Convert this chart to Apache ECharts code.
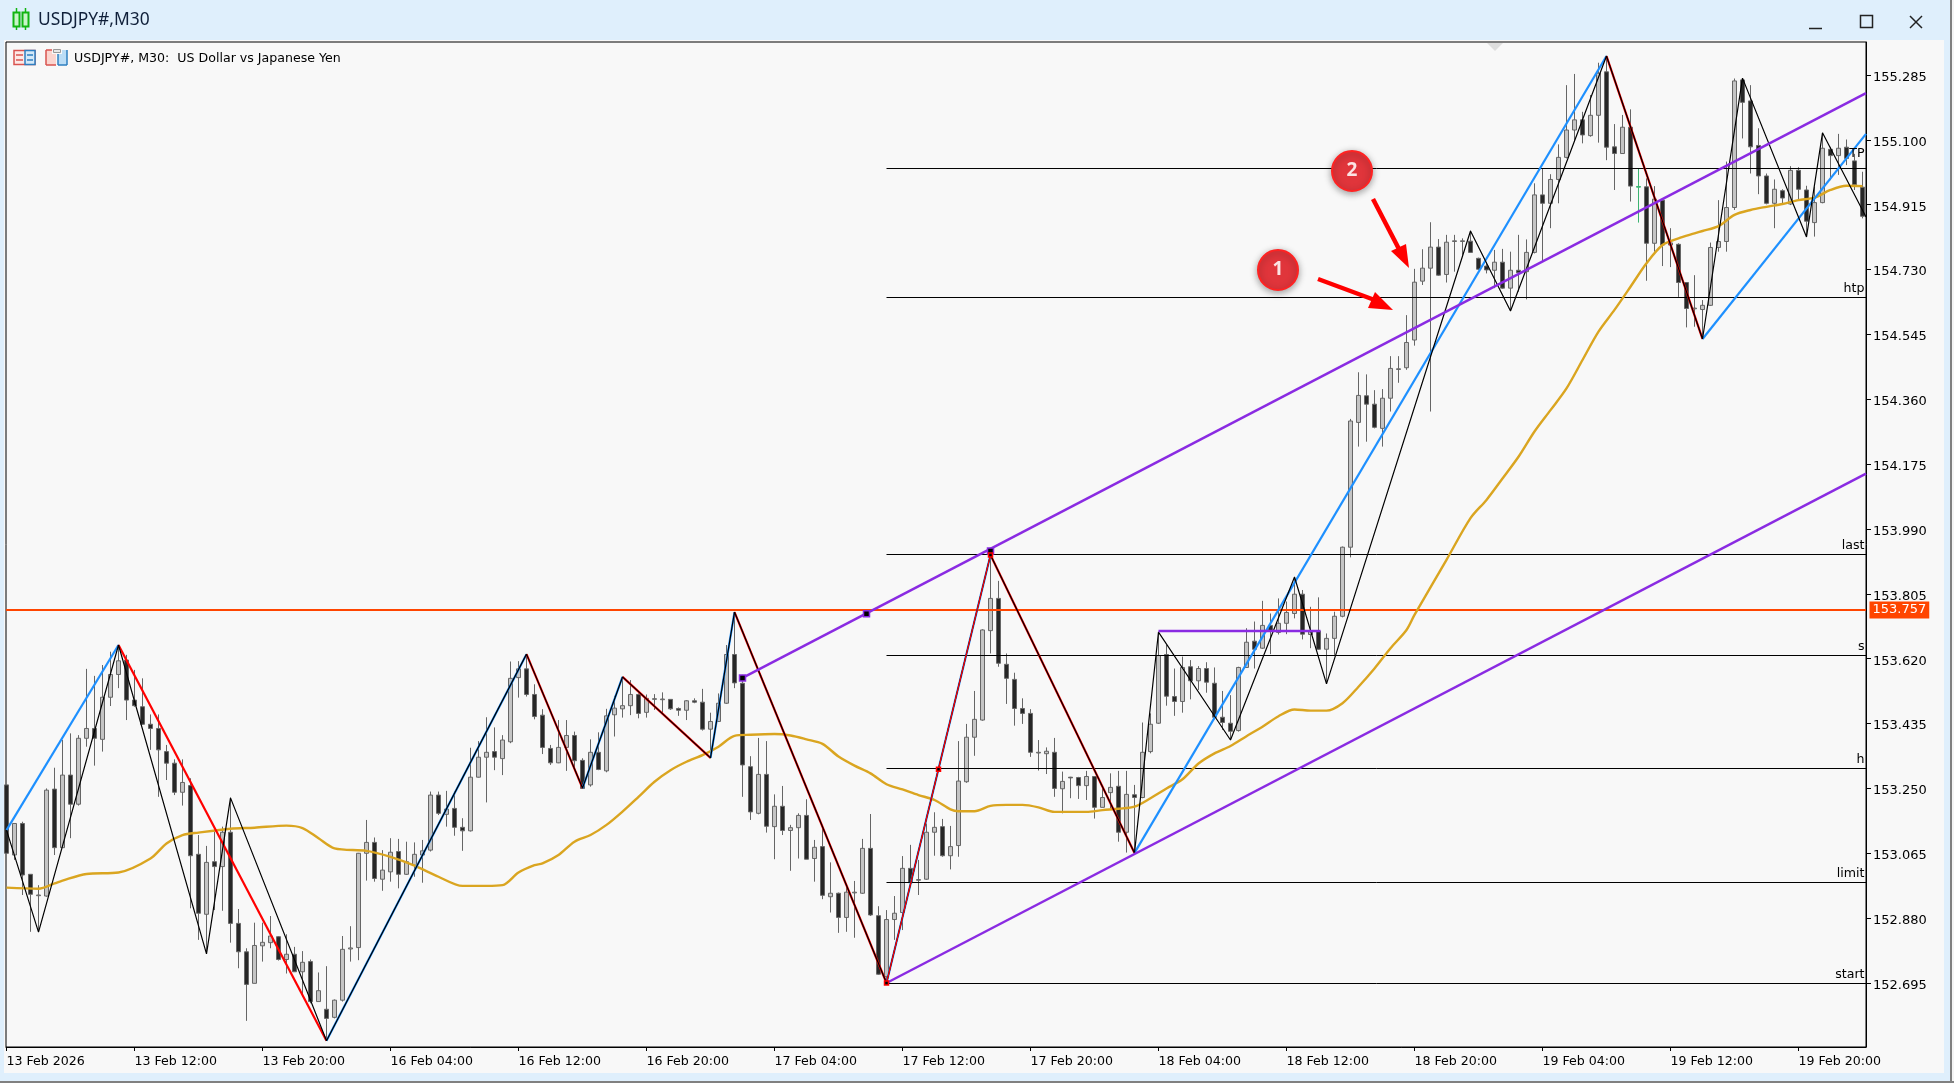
<!DOCTYPE html>
<html>
<head>
<meta charset="utf-8">
<title>USDJPY#,M30</title>
<style>
html, body { margin: 0; padding: 0; background: #DFEFFC; }
#main { width: 1954px; height: 1083px; }
</style>
<script src="https://cdn.jsdelivr.net/npm/echarts@6/dist/echarts.min.js"></script>
</head>
<body>
<div id="main"></div>
<script>
// tick labels, one every 16 bars
var tickLabels = ['13 Feb 2026', '13 Feb 12:00', '13 Feb 20:00', '16 Feb 04:00', '16 Feb 12:00', '16 Feb 20:00',
    '17 Feb 04:00', '17 Feb 12:00', '17 Feb 20:00', '18 Feb 04:00', '18 Feb 12:00', '18 Feb 20:00',
    '19 Feb 04:00', '19 Feb 12:00', '19 Feb 20:00'];
var tickBars = [0, 16, 32, 48, 64, 80, 96, 112, 128, 144, 160, 176, 192, 208, 224];
var priceTicks = [152.695, 152.880, 153.065, 153.250, 153.435, 153.620, 153.805, 153.990, 154.175,
    154.360, 154.545, 154.730, 154.915, 155.100, 155.285];

// M30 bars: open, close, low, high
var candles = [
[153.260,153.065,153.065,153.260],[153.060,153.150,153.046,153.150],[153.150,153.003,152.946,153.155],[153.005,152.948,152.841,153.005],
[152.944,152.946,152.841,152.974],[152.943,153.245,152.941,153.250],[153.248,153.081,153.060,153.309],[153.081,153.288,153.081,153.388],
[153.288,153.205,153.108,153.407],[153.205,153.393,153.201,153.402],[153.393,153.421,153.369,153.591],[153.421,153.393,153.315,153.571],
[153.390,153.510,153.355,153.602],[153.510,153.575,153.485,153.640],[153.575,153.614,153.536,153.659],[153.616,153.502,153.445,153.631],
[153.502,153.486,153.483,153.588],[153.483,153.433,153.431,153.564],[153.433,153.421,153.360,153.461],[153.421,153.360,153.226,153.461],
[153.355,153.322,153.274,153.374],[153.322,153.239,153.231,153.333],[153.239,153.267,153.201,153.333],[153.258,153.058,152.908,153.279],
[153.062,152.894,152.818,153.117],[152.891,153.039,152.778,153.086],[153.041,153.027,152.903,153.127],[153.027,153.125,152.901,153.141],
[153.125,152.865,152.810,153.224],[152.865,152.784,152.737,152.906],[152.784,152.691,152.587,152.794],[152.694,152.802,152.694,152.867],
[152.801,152.811,152.756,152.867],[152.810,152.829,152.794,152.886],[152.827,152.762,152.759,152.829],[152.762,152.777,152.722,152.834],
[152.777,152.727,152.727,152.798],[152.727,152.754,152.656,152.786],[152.756,152.642,152.637,152.762],[152.642,152.673,152.642,152.725],
[152.620,152.594,152.530,152.743],[152.597,152.646,152.594,152.648],[152.646,152.791,152.642,152.829],[152.792,152.795,152.756,152.857],
[152.796,153.065,152.760,153.066],[153.065,153.096,152.987,153.160],[153.096,152.993,152.984,153.110],[152.991,153.017,152.958,153.074],
[153.012,153.068,152.984,153.108],[153.070,153.005,152.965,153.106],[153.005,153.041,153.003,153.098],[153.031,153.062,152.998,153.096],
[153.060,153.072,152.981,153.103],[153.074,153.231,153.070,153.241],[153.231,153.179,153.174,153.241],[153.176,153.191,153.141,153.243],
[153.193,153.139,153.115,153.241],[153.139,153.129,153.072,153.165],[153.129,153.282,153.127,153.366],[153.282,153.339,153.281,153.385],
[153.339,153.353,153.210,153.453],[153.355,153.339,153.302,153.424],[153.335,153.388,153.288,153.402],[153.383,153.564,153.379,153.612],
[153.566,153.591,153.509,153.613],[153.591,153.518,153.512,153.632],[153.518,153.455,153.447,153.547],[153.459,153.367,153.348,153.476],
[153.364,153.323,153.317,153.374],[153.323,153.367,153.322,153.445],[153.367,153.401,153.300,153.445],[153.401,153.329,153.302,153.412],
[153.330,153.250,153.250,153.336],[153.260,153.353,153.255,153.390],[153.353,153.304,153.302,153.410],[153.300,153.457,153.296,153.477],
[153.460,153.479,153.398,153.514],[153.477,153.486,153.452,153.567],[153.486,153.518,153.459,153.559],[153.518,153.464,153.450,153.521],
[153.467,153.507,153.452,153.518],[153.504,153.506,153.474,153.519],[153.503,153.505,153.464,153.524],[153.504,153.477,153.474,153.505],
[153.478,153.473,153.457,153.481],[153.473,153.500,153.445,153.502],[153.500,153.496,153.493,153.507],[153.496,153.419,153.415,153.534],
[153.419,153.441,153.336,153.466],[153.441,153.493,153.440,153.521],[153.493,153.632,153.491,153.659],[153.632,153.551,153.536,153.753],
[153.550,153.317,153.226,153.574],[153.312,153.183,153.160,153.342],[153.179,153.290,153.176,153.394],[153.290,153.142,153.124,153.385],
[153.141,153.199,153.048,153.233],[153.199,153.130,153.117,153.257],[153.130,153.138,153.015,153.146],[153.138,153.173,153.050,153.179],
[153.173,153.048,153.048,153.219],[153.050,153.082,152.984,153.103],[153.084,152.945,152.934,153.141],[152.941,152.951,152.896,153.039],
[152.951,152.882,152.838,152.953],[152.882,152.954,152.841,152.970],[152.952,152.954,152.824,152.986],[152.951,153.079,152.949,153.106],
[153.079,152.889,152.886,153.177],[152.887,152.720,152.718,152.914],[152.713,152.876,152.694,152.903],[152.876,152.894,152.818,152.943],
[152.896,153.022,152.846,153.057],[153.022,152.981,152.979,153.089],[152.988,152.990,152.946,153.046],[152.991,153.125,152.989,153.150],
[153.125,153.139,153.058,153.182],[153.141,153.058,153.055,153.163],[153.058,153.084,153.019,153.143],[153.087,153.271,153.055,153.385],
[153.269,153.396,153.266,153.434],[153.396,153.447,153.343,153.528],[153.445,153.702,153.443,153.704],[153.700,153.792,153.635,153.916],
[153.792,153.607,153.597,153.842],[153.604,153.564,153.491,153.635],[153.561,153.478,153.429,153.580],[153.478,153.464,153.434,153.507],
[153.464,153.353,153.340,153.476],[153.351,153.353,153.301,153.388],[153.349,153.356,153.291,153.367],[153.353,153.250,153.226,153.394],
[153.249,153.270,153.179,153.298],[153.282,153.280,153.222,153.283],[153.281,153.258,153.220,153.283],[153.258,153.284,153.217,153.300],
[153.284,153.196,153.164,153.285],[153.196,153.224,153.196,153.250],[153.238,153.253,153.193,153.293],[153.256,153.125,153.098,153.300],
[153.125,153.233,153.067,153.300],[153.232,153.224,153.067,153.260],[153.224,153.353,153.222,153.438],[153.355,153.433,153.350,153.464],
[153.436,153.629,153.434,153.697],[153.632,153.513,153.486,153.659],[153.512,153.498,153.457,153.592],[153.498,153.595,153.466,153.626],
[153.597,153.557,153.504,153.616],[153.557,153.592,153.531,153.599],[153.592,153.553,153.523,153.610],[153.550,153.453,153.447,153.595],
[153.453,153.438,153.417,153.528],[153.436,153.413,153.388,153.516],[153.415,153.595,153.412,153.597],[153.595,153.667,153.594,153.707],
[153.670,153.647,153.592,153.726],[153.650,153.715,153.648,153.785],[153.715,153.700,153.633,153.749],[153.695,153.721,153.689,153.792],
[153.721,153.752,153.690,153.783],[153.749,153.804,153.735,153.852],[153.804,153.690,153.675,153.816],[153.689,153.697,153.650,153.768],
[153.699,153.647,153.645,153.795],[153.647,153.678,153.548,153.692],[153.678,153.741,153.631,153.754],[153.741,153.938,153.738,153.940],
[153.938,154.298,153.909,154.304],[154.294,154.371,154.225,154.437],[154.370,154.346,154.239,154.431],[154.346,154.280,154.277,154.386],
[154.277,154.363,154.225,154.389],[154.363,154.448,154.325,154.483],[154.445,154.447,154.407,154.483],[154.450,154.522,154.444,154.600],
[154.529,154.694,154.513,154.732],[154.697,154.734,154.686,154.788],[154.734,154.794,154.325,154.865],[154.794,154.714,154.712,154.817],
[154.716,154.808,154.693,154.829],[154.810,154.812,154.724,154.829],[154.810,154.812,154.772,154.819],[154.811,154.779,154.779,154.841],
[154.762,154.731,154.729,154.764],[154.740,154.729,154.719,154.751],[154.728,154.751,154.677,154.786],[154.751,154.677,154.675,154.789],
[154.677,154.728,154.613,154.781],[154.728,154.721,154.667,154.829],[154.724,154.779,154.645,154.816],[154.779,154.943,154.776,154.976],
[154.943,154.919,154.752,155.019],[154.919,154.987,154.848,155.002],[154.987,155.050,154.919,155.087],[155.050,155.128,155.047,155.256],
[155.128,155.157,155.095,155.288],[155.157,155.114,155.090,155.180],[155.112,155.170,155.109,155.228],[155.170,155.290,155.092,155.320],
[155.294,155.079,155.042,155.339],[155.080,155.061,154.957,155.145],[155.061,155.136,155.060,155.171],[155.136,154.968,154.924,155.187],
[154.967,154.965,154.864,155.019],[154.966,154.805,154.698,154.990],[154.805,154.931,154.781,154.968],[154.928,154.800,154.740,154.931],
[154.800,154.806,154.737,154.848],[154.802,154.693,154.652,154.805],[154.693,154.619,154.565,154.693],[154.618,154.620,154.567,154.714],
[154.616,154.628,154.534,154.643],[154.628,154.793,154.626,154.807],[154.793,154.810,154.781,154.928],[154.810,154.907,154.781,155.038],
[154.907,155.268,154.900,155.275],[155.271,155.207,155.104,155.275],[155.211,155.080,155.004,155.256],[155.084,154.997,154.945,155.133],
[154.997,154.919,154.916,155.004],[154.919,154.959,154.848,154.987],[154.955,154.934,154.919,154.959],[154.917,155.013,154.914,155.025],
[155.013,154.959,154.928,155.022],[154.957,154.868,154.824,154.969],[154.864,154.921,154.824,154.966],[154.921,155.076,154.919,155.120],
[155.073,155.055,154.985,155.080],[155.055,155.076,155.000,155.117],[155.079,155.047,155.028,155.101],[155.040,154.972,154.957,155.060],
[154.965,154.882,154.876,155.009]
];
var highlightedBar = 204;   // the green bar

// moving average, read at these bars
var maBars = [0,4,6,7,10,14,18,20,22,24,28,31,35,37,39,41,45,48,51,54,57,59,60,62,64,66,67,69,71,73,75,77,79,81,83,85,87,89,91,93,96,98,100,102,104,106,108,110,112,114,116,
    118,119,121,123,125,127,129,131,135,137,139,141,143,145,147,149,151,153,155,157,159,161,163,165,167,169,171,173,175,176,180,183,185,187,189,191,193,195,197,199,201,203,205,207,209,211,212,214,216,218,220,222,224,226,228,230,232];
var maValues = [152.967,152.964,152.979,152.987,153.006,153.010,153.050,153.093,153.117,153.124,153.135,153.138,153.144,153.137,153.108,153.079,153.072,153.055,153.030,152.998,152.972,152.972,152.972,152.974,153.010,153.031,153.036,153.060,153.098,153.117,153.146,153.184,153.226,153.269,153.302,153.326,153.345,153.369,153.400,153.403,153.405,153.401,153.390,153.377,153.341,153.315,153.293,153.262,153.247,153.231,153.217,
    153.190,153.185,153.185,153.200,153.203,153.203,153.196,153.183,153.183,153.188,153.192,153.198,153.222,153.250,153.276,153.321,153.350,153.371,153.399,153.426,153.456,153.475,153.472,153.472,153.493,153.540,153.592,153.650,153.702,153.745,153.902,154.021,154.073,154.134,154.196,154.268,154.329,154.391,154.472,154.553,154.615,154.681,154.748,154.800,154.819,154.833,154.840,154.854,154.886,154.900,154.909,154.917,154.928,154.935,154.957,154.969,154.968];

// thin black zigzag
var zigzagBars = [0,4,14,25,28,40,65,72,77,88,91,110,123,141,144,153,161,165,183,188,200,212,217,225,227,232.44];
var zigzagPrices = [153.131,152.840,153.659,152.778,153.223,152.530,153.633,153.251,153.568,153.337,153.753,152.695,153.916,153.066,153.696,153.388,153.853,153.548,154.840,154.612,155.339,154.532,155.276,154.823,155.120,154.880];
// thick swing legs, blue going up and red going down
var swingBars = [0,14,40,65,72,77,88,91,110,123,141,200,212,232.44];
var swingPrices = [153.131,153.659,152.530,153.633,153.251,153.568,153.337,153.753,152.695,153.916,153.066,155.339,154.532,155.117];

// purple channel
var channelTopBars = [92, 232.44], channelTopPrices = [153.565, 155.233];
var channelLowBars = [110, 232.44], channelLowPrices = [152.695, 154.148];
var shelfBars = [144, 164.25], shelfPrices = [153.699, 153.699];
var purpleAnchorBars = [92, 107.5, 123], purpleAnchorPrices = [153.565, 153.748, 153.927];
var redLegBars = [110, 123], redLegPrices = [152.695, 153.916];
var redAnchorBars = [110, 116.5, 123], redAnchorPrices = [152.695, 153.305, 153.916];

// horizontal levels
var levelNames = ['TP', 'htp', 'last', 's', 'h', 'limit', 'start'];
var levelPrices = [155.0182, 154.6503, 153.9172, 153.6291, 153.3068, 152.9816, 152.6935];
var levelFromBar = 110;
var lastPrice = 153.7589;
var lastPriceText = '153.757';

var xMin = -0.0625, xMax = 232.4375;
var uiFont = '"DejaVu Sans"';

function zip(bars, values) {
    return bars.map(function (b, i) { return [b, values[i]]; });
}
function lineSeries(data, color, width, z, smooth) {
    return {
        type: 'line',
        data: data,
        showSymbol: false,
        symbol: 'none',
        silent: true,
        smooth: smooth || false,
        z: z || 3,
        lineStyle: { color: color, width: width }
    };
}
function anchorSeries(data, fill, border, size) {
    return {
        type: 'scatter',
        data: data,
        symbol: 'rect',
        symbolSize: size,
        silent: true,
        z: 6,
        itemStyle: { color: fill, borderColor: border, borderWidth: 1.5, opacity: 1 }
    };
}
// an invisible point that only carries a text next to it
function labelSeries(x, y, label) {
    return {
        type: 'scatter',
        data: [[x, y]],
        symbolSize: 1,
        clip: false,
        silent: true,
        z: 7,
        itemStyle: { color: 'rgba(0,0,0,0)', opacity: 1 },
        label: Object.assign({ show: true, fontFamily: uiFont, fontSize: 12.6 }, label)
    };
}

var barData = [], greenData = [];
candles.forEach(function (c, i) {
    (i === highlightedBar ? greenData : barData).push([i, c[0], c[1], c[2], c[3]]);
});

var series = [];
series.push({
    type: 'candlestick',
    data: barData,
    encode: { x: 0, y: [1, 2, 3, 4] },
    barWidth: 5,
    silent: true,
    z: 2,
    itemStyle: { color: '#C4C4C4', color0: '#262626', borderColor: '#666666', borderColor0: '#666666', borderWidth: 1 }
});
series.push({
    type: 'candlestick',
    data: greenData,
    encode: { x: 0, y: [1, 2, 3, 4] },
    barWidth: 5,
    silent: true,
    z: 2,
    itemStyle: { color: '#3CB371', color0: '#3CB371', borderColor: '#3CB371', borderColor0: '#3CB371', borderWidth: 1 }
});

// levels with their names
levelNames.forEach(function (name, i) {
    series.push(lineSeries(zip([levelFromBar, xMax], [levelPrices[i], levelPrices[i]]), '#000000', 1, 3));
    series.push(labelSeries(xMax, levelPrices[i], {
        position: 'left', distance: 1, offset: [0, name === 'TP' ? -15 : -9], formatter: name, color: '#000'
    }));
});

// last price line and its tag
series.push(lineSeries(zip([xMin, xMax], [lastPrice, lastPrice]), '#FF4500', 2, 4));
series.push(labelSeries(xMax, lastPrice, {
    position: 'right', distance: 3, formatter: lastPriceText, color: '#fff', backgroundColor: '#FF4500',
    fontSize: 13, padding: [2, 3, 2, 3], lineHeight: 13
}));

series.push(lineSeries(zip(maBars, maValues), '#DAA520', 2.4, 4, 0.3));

// swing legs
for (var s = 0; s < swingBars.length - 1; s++) {
    var up = swingPrices[s + 1] > swingPrices[s];
    series.push(lineSeries(zip(swingBars.slice(s, s + 2), swingPrices.slice(s, s + 2)), up ? '#1E90FF' : '#FF0000', 2.2, 4));
}
series.push(lineSeries(zip(zigzagBars, zigzagPrices), '#000000', 1.2, 5));
series.push(lineSeries(zip(redLegBars, redLegPrices), '#FF0000', 1.2, 5));

series.push(lineSeries(zip(channelTopBars, channelTopPrices), '#8A2BE2', 2.5, 5));
series.push(lineSeries(zip(channelLowBars, channelLowPrices), '#8A2BE2', 2.5, 5));
series.push(lineSeries(zip(shelfBars, shelfPrices), '#8A2BE2', 2.5, 5));
series.push(anchorSeries(zip(purpleAnchorBars, purpleAnchorPrices), '#000000', '#8A2BE2', 6));
series.push(anchorSeries(zip(redAnchorBars, redAnchorPrices), '#000000', '#FF0000', 4));

// window chrome and the drawn on notes
function box(x, y, w, h, fill, stroke, lw) {
    return { type: 'rect', shape: { x: x, y: y, width: w, height: h }, style: { fill: fill || 'none', stroke: stroke || 'none', lineWidth: lw || 1 }, silent: true };
}
function seg(x1, y1, x2, y2, color, lw) {
    return { type: 'line', shape: { x1: x1, y1: y1, x2: x2, y2: y2 }, style: { stroke: color, lineWidth: lw }, silent: true };
}
function poly(points, fill) {
    return { type: 'polygon', shape: { points: points }, style: { fill: fill }, silent: true };
}
function note(cx, cy, text) {
    return [
        {
            type: 'circle', shape: { cx: cx, cy: cy, r: 20 }, silent: true,
            style: { fill: '#E0353B', stroke: '#FF2222', lineWidth: 2, shadowBlur: 7, shadowColor: 'rgba(0,0,0,0.35)', shadowOffsetY: 2 }
        },
        {
            type: 'text', x: cx, y: cy, silent: true,
            style: { text: text, fill: '#FBE3E3', font: 'bold 19px "Open Sans"', textAlign: 'center', textVerticalAlign: 'middle' }
        }
    ];
}
var panel = box(4, 40, 1940, 1033, '#F8F8F8');
panel.z = -10;
var chrome = [
    // outer window edges
    seg(1951, 0, 1951, 1083, '#808080', 2),
    seg(0, 1082, 1954, 1082, '#808080', 2),
    box(1952, 0, 2, 1081, '#F5F5F5'),
    // title bar
    seg(16.5, 8, 16.5, 30, '#11B511', 1.5),
    seg(25.5, 8, 25.5, 30, '#11B511', 1.5),
    box(13.5, 12.5, 6, 14, '#C8F5C8', '#11B511', 2),
    box(22.5, 12.5, 6, 14, '#C8F5C8', '#11B511', 2),
    { type: 'text', x: 38, y: 20, silent: true, style: { text: 'USDJPY#,M30', fill: '#10203A', font: '17.4px "Noto Sans"', textVerticalAlign: 'middle' } },
    seg(1809, 28.5, 1822, 28.5, '#222', 1.5),
    box(1860.5, 15.5, 12, 12, 'none', '#222', 1.5),
    seg(1910, 16, 1922, 28, '#222', 1.5),
    seg(1922, 16, 1910, 28, '#222', 1.5),
    // chart header icons
    box(14, 50.5, 21, 14, '#FDE9E6', '#D9534F', 1.5),
    box(25, 50.5, 10, 14, '#D5E9F8', '#2E7FC1', 1.5),
    seg(16, 55, 23, 55, '#D9534F', 1.5), seg(16, 60, 23, 60, '#D9534F', 1.5),
    seg(27, 55, 33, 55, '#2E7FC1', 1.5), seg(27, 60, 33, 60, '#2E7FC1', 1.5),
    poly([[46, 50], [52, 50], [52, 54], [56, 54], [56, 65], [46, 65]], '#FBD5CF'),
    seg(46, 50, 46, 65, '#D9534F', 1.5), seg(46, 65, 56, 65, '#D9534F', 1.5), seg(46, 50, 52, 50, '#D9534F', 1.5),
    box(53.5, 49.5, 7, 3, '#E8E8E8', '#999', 1),
    poly([[58, 54], [62, 54], [62, 50], [67, 50], [67, 65], [58, 65]], '#BBDDF6'),
    seg(67, 50, 67, 65, '#2E7FC1', 1.5), seg(58, 65, 67, 65, '#2E7FC1', 1.5), seg(58, 54, 58, 65, '#2E7FC1', 1.5),
    { type: 'text', x: 74, y: 59, silent: true, style: { text: 'USDJPY#, M30:  US Dollar vs Japanese Yen', fill: '#000', font: '12.6px "DejaVu Sans"', textVerticalAlign: 'middle' } },
    // small marker on the top edge
    poly([[1487, 43], [1503, 43], [1495, 51]], '#DDDDDD'),
    // arrows
    seg(1318, 279, 1380, 302, '#FF0000', 4.5),
    poly([[1393, 310], [1368, 308], [1375, 292]], '#FF0000'),
    seg(1373, 199, 1400, 251, '#FF0000', 4.5),
    poly([[1409, 268], [1391, 251], [1406, 244]], '#FF0000')
].concat(note(1278, 270, '1'), note(1352, 171, '2'));
chrome.forEach(function (g) { g.z = 20; });

var option = {
    animation: false,
    backgroundColor: '#DFEFFC',
    graphic: { elements: [panel].concat(chrome) },
    grid: {
        show: true,
        left: 6,
        top: 42,
        right: 88,
        bottom: 36,
        backgroundColor: '#F8F8F8',
        borderColor: '#000',
        borderWidth: 1,
        containLabel: false
    },
    xAxis: {
        type: 'value',
        min: xMin,
        max: xMax,
        splitLine: { show: false },
        axisLine: { show: true, onZero: false, lineStyle: { color: '#000', width: 1 } },
        axisTick: { show: true, length: 4, customValues: tickBars, lineStyle: { color: '#000' } },
        axisLabel: {
            show: true,
            customValues: tickBars,
            margin: 8,
            align: 'left',
            color: '#000',
            fontFamily: uiFont,
            fontSize: 12.6,
            formatter: function (v) { return tickLabels[tickBars.indexOf(v)]; }
        }
    },
    yAxis: {
        type: 'value',
        position: 'right',
        min: 152.5124,
        max: 155.3791,
        scale: true,
        splitLine: { show: false },
        axisLine: { show: true, onZero: false, lineStyle: { color: '#000', width: 1 } },
        axisTick: { show: true, length: 5, customValues: priceTicks, lineStyle: { color: '#000' } },
        axisLabel: {
            show: true,
            customValues: priceTicks,
            margin: 7,
            formatter: function (v) { return '{p|' + v.toFixed(3) + '}'; },
            rich: {
                p: { padding: [5, 0, 0, 0], color: '#000', fontFamily: uiFont, fontSize: 13 }
            }
        }
    },
    series: series
};

var dom = document.getElementById('main');
var myChart = echarts.init(dom);
myChart.setOption(option, true);
</script>
</body>
</html>
